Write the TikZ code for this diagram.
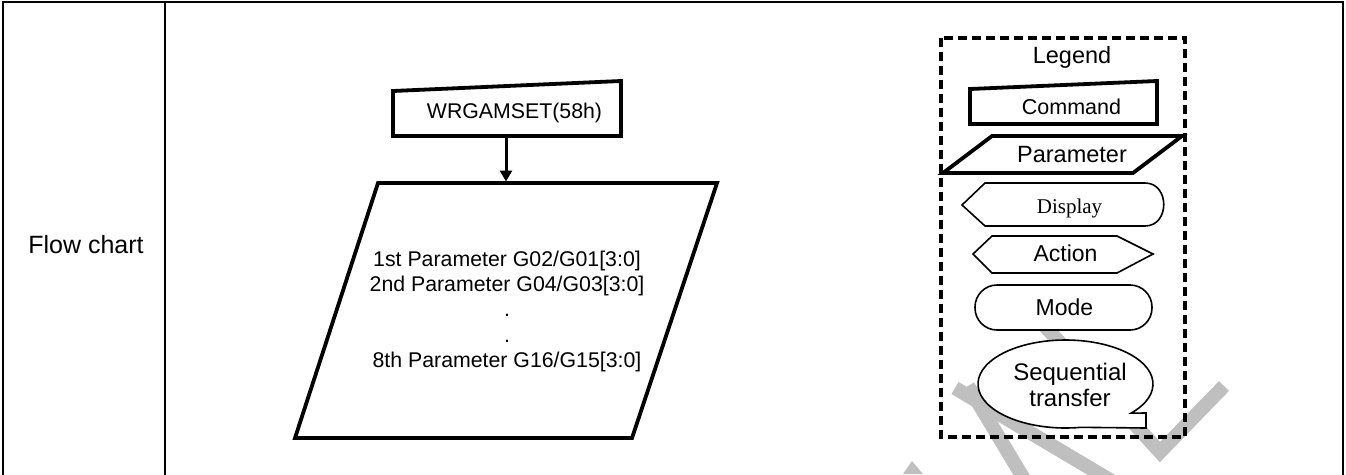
\documentclass[tikz,border=0pt]{standalone}
\usepackage{fontspec}
\setmainfont{Liberation Sans}
\newfontfamily\serifface{Liberation Serif}
\usetikzlibrary{arrows.meta}
\begin{document}
\begin{tikzpicture}[x=1pt,y=-1pt,
  wm/.style={draw=black!25, line width=14pt, line cap=butt, line join=miter},
  heavy/.style={draw=black, line width=3.8pt, line join=miter, fill=white},
  light/.style={draw=black, line width=1.6pt, fill=white},
  frame/.style={draw=black, line width=2.5pt},
  txt/.style={inner sep=0pt, anchor=base},
  ]
\useasboundingbox (0,0) rectangle (1346,474);

% watermark remnants
\draw[wm] (1030,310) -- (1160,452) -- (1224,386);
\draw[wm] (968,386) -- (1027,484);
\draw[wm] (955,388) -- (1115,483);
\fill[black!25] (903,474) -- (912,461) -- (923,474) -- cycle;

% table frame
\draw[frame] (3,480) -- (3,2) -- (1343,2) -- (1343,480);
\draw[frame] (165,2) -- (165,480);
\node[txt, font=\fontsize{25}{30}\selectfont] (fc) at (86,253) {Flow chart};

% main command
\draw[heavy] (393,91) -- (621,81) -- (621,136) -- (393,136) -- cycle;
\node[txt, font=\fontsize{21.3}{25}\selectfont] (cmdt) at (514.5,118) {WRGAMSET(58h)};
\coordinate (cmdb) at (506,137);
\coordinate (part) at (506,181.5);

% main parameter
\draw[heavy] (378,183) -- (717,183) -- (632,438) -- (295,438) -- cycle;
\draw[line width=3pt, -{Triangle[width=12pt,length=11pt]}] (cmdb) -- (part);
\node[txt, font=\fontsize{21.3}{25}\selectfont] (p1) at (507,266) {1st Parameter G02/G01[3:0]};
\node[txt, font=\fontsize{21.3}{25}\selectfont] (p2) at (507,291.5) {2nd Parameter G04/G03[3:0]};
\node[txt, font=\fontsize{21.3}{25}\selectfont] (p3) at (507,316.5) {.};
\node[txt, font=\fontsize{21.3}{25}\selectfont] (p4) at (507,342) {.};
\node[txt, font=\fontsize{21.3}{25}\selectfont] (p5) at (507,367) {8th Parameter G16/G15[3:0]};

% legend
\node[txt, font=\fontsize{23.5}{28}\selectfont] (leg) at (1072,63) {Legend};
\draw[heavy] (970,89) -- (1157,81) -- (1157,124) -- (970,124) -- cycle;
\node[txt, font=\fontsize{21.5}{26}\selectfont] (lcmd) at (1071.5,114) {Command};
\draw[heavy] (992,136) -- (1182,136) -- (1133,173) -- (943,173) -- cycle;
\node[txt, font=\fontsize{23.5}{28}\selectfont] (lpar) at (1072,162) {Parameter};
\draw[light] (962,205) -- (985,183) -- (1145,183) .. controls (1170,183) and (1170,226) .. (1145,226) -- (985,226) -- cycle;
\node[txt, font=\serifface\fontsize{21}{25}\selectfont] (ldisp) at (1069.5,213) {Display};
\draw[light] (973,254) -- (992,236) -- (1117,236) -- (1153,254) -- (1117,273) -- (992,273) -- cycle;
\node[txt, font=\fontsize{23}{28}\selectfont] (lact) at (1065.5,261) {Action};
\draw[light, rounded corners=22pt] (975,285) rectangle (1152,330);
\node[txt, font=\fontsize{23}{28}\selectfont] (lmode) at (1064.5,315) {Mode};
\draw[light] (1065.5,384) ++(-41.5:87.5pt and 44pt) arc[start angle=-41.5, end angle=280, x radius=87.5pt, y radius=44pt] -- (1146,428) -- (1146,413) -- cycle;
\node[txt, font=\fontsize{24}{26}\selectfont] (lseq1) at (1070,380) {Sequential};
\node[txt, font=\fontsize{24}{26}\selectfont] (lseq2) at (1070,406) {transfer};
\draw[line width=3.2pt, dash pattern=on 9pt off 5pt] (941,38) rectangle (1185,437);
\end{tikzpicture}
\end{document}
